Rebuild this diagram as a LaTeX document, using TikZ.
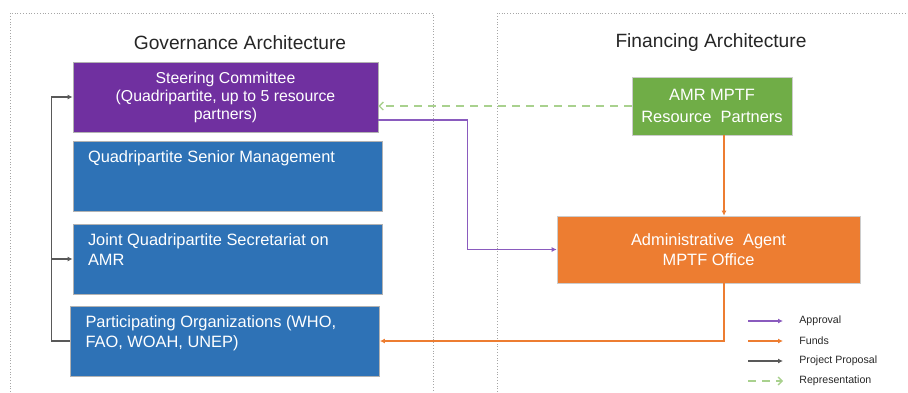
\documentclass[tikz,border=0pt]{standalone}
\usepackage{fontspec}
\setmainfont{Liberation Sans}
\usetikzlibrary{arrows.meta}
\definecolor{steerpurple}{HTML}{7030A0}
\definecolor{unitblue}{HTML}{2E72B6}
\definecolor{partnergreen}{HTML}{70AD47}
\definecolor{officeorange}{HTML}{ED7D31}
\definecolor{approvalline}{HTML}{8A5BBE}
\definecolor{reprline}{HTML}{A9D18E}
\definecolor{titlegray}{HTML}{262626}
\begin{document}
\begin{tikzpicture}[
        x=0.5pt, y=-0.5pt,
        every node/.style={font=\fontsize{8.2}{10}\selectfont, text=white},
        titulo/.style={font=\fontsize{9.6}{11}\selectfont, text=titlegray},
        steering/.style={draw=gray!60, line width=0.4pt, fill=steerpurple, minimum width=152.5pt, minimum height=35pt, align=center, inner sep=0pt, font=\fontsize{7.9}{9}\selectfont},
        unit/.style={draw=gray!60, line width=0.4pt, fill=unitblue, minimum width=154.5pt, minimum height=35pt, inner sep=0pt},
        unittext/.style={anchor=north west, align=left, inner sep=0pt, xshift=7.5pt, yshift=-5pt},
        partners/.style={draw=gray!40, line width=0.3pt, fill=partnergreen, minimum width=80pt, minimum height=29pt, align=center, inner sep=0pt, font=\fontsize{8.2}{11}\selectfont},
        office/.style={draw=gray!40, line width=0.3pt, fill=officeorange, minimum width=151.5pt, minimum height=33.5pt, align=center, inner sep=0pt},
        frame/.style={draw=gray!70, densely dotted, line width=0.4pt},
        approval/.style={draw=approvalline, line width=0.65pt, -{Latex[length=2.5pt, width=2.5pt]}},
        funds/.style={draw=officeorange, line width=0.6pt, -{Latex[length=2.5pt, width=2.5pt]}},
        proposal/.style={draw=black!65, line width=0.55pt, -{Latex[length=2.5pt, width=2.5pt]}},
        repr/.style={draw=reprline, line width=0.65pt, dashed, dash pattern=on 4pt off 3pt, -{Straight Barb[length=2pt, width=4pt]}},
        legtext/.style={anchor=west, inner sep=0pt, text=titlegray, font=\fontsize{5.3}{6}\selectfont}
    ]
    \useasboundingbox (0,0) rectangle (908,392);

    % Marcos
    \draw[frame] (10,392) -- (10,13) -- (433,13) -- (433,392);
    \draw[frame] (497,392) -- (497,13) -- (908,13);

    % Gobernanza
    \node[titulo] (tituloGob) at (240,43) {Governance Architecture};
    \node[steering] (steer) at (225.5,97) {Steering Committee\\(Quadripartite, up to 5 resource\\partners)};
    \node[unit, label={[unittext]north west:Quadripartite Senior Management}] (senior) at (227.5,176) {};
    \node[unit, label={[unittext]north west:{Joint Quadripartite Secretariat on\\AMR}}] (joint) at (227.5,259) {};
    \node[unit, label={[unittext]north west:{Participating Organizations (WHO,\\FAO, WOAH, UNEP)}}] (partic) at (225,341) {};

    % Financiamiento
    \node[titulo] (tituloFin) at (711,43) {Financing Architecture};
    \node[partners] (green) at (712,106) {AMR MPTF\\Resource~~Partners};
    \node[office] (admin) at (708.5,249.5) {Administrative~~Agent\\MPTF Office};
    \coordinate (fundsx) at (724,0);

    % Aristas
    \draw[repr] (green.west) -- (green.west -| steer.east);
    \draw[approval] ([yshift=-11.5pt]steer.east) -- ++(89,0) |- (admin.west);
    \draw[funds] (green.south -| fundsx) -- (admin.north -| fundsx);
    \draw[funds] (admin.south -| fundsx) |- (partic.east);
    \draw[proposal] (partic.west) -- ++(-19,0) |- (steer.west);
    \draw[proposal] (partic.west) ++(-19,0) |- (joint.west);

    % Leyenda
    \foreach \sty/\txt [count=\i] in {approval/Approval, funds/Funds, proposal/Project Proposal, repr/Representation} {
        \node[legtext] (leg\i) at (799,301+20*\i) {\txt};
        \coordinate (legs\i) at (748,301+20*\i);
        \draw[\sty] (legs\i) -- ([xshift=-8pt]leg\i.west);
    }
\end{tikzpicture}
\end{document}
